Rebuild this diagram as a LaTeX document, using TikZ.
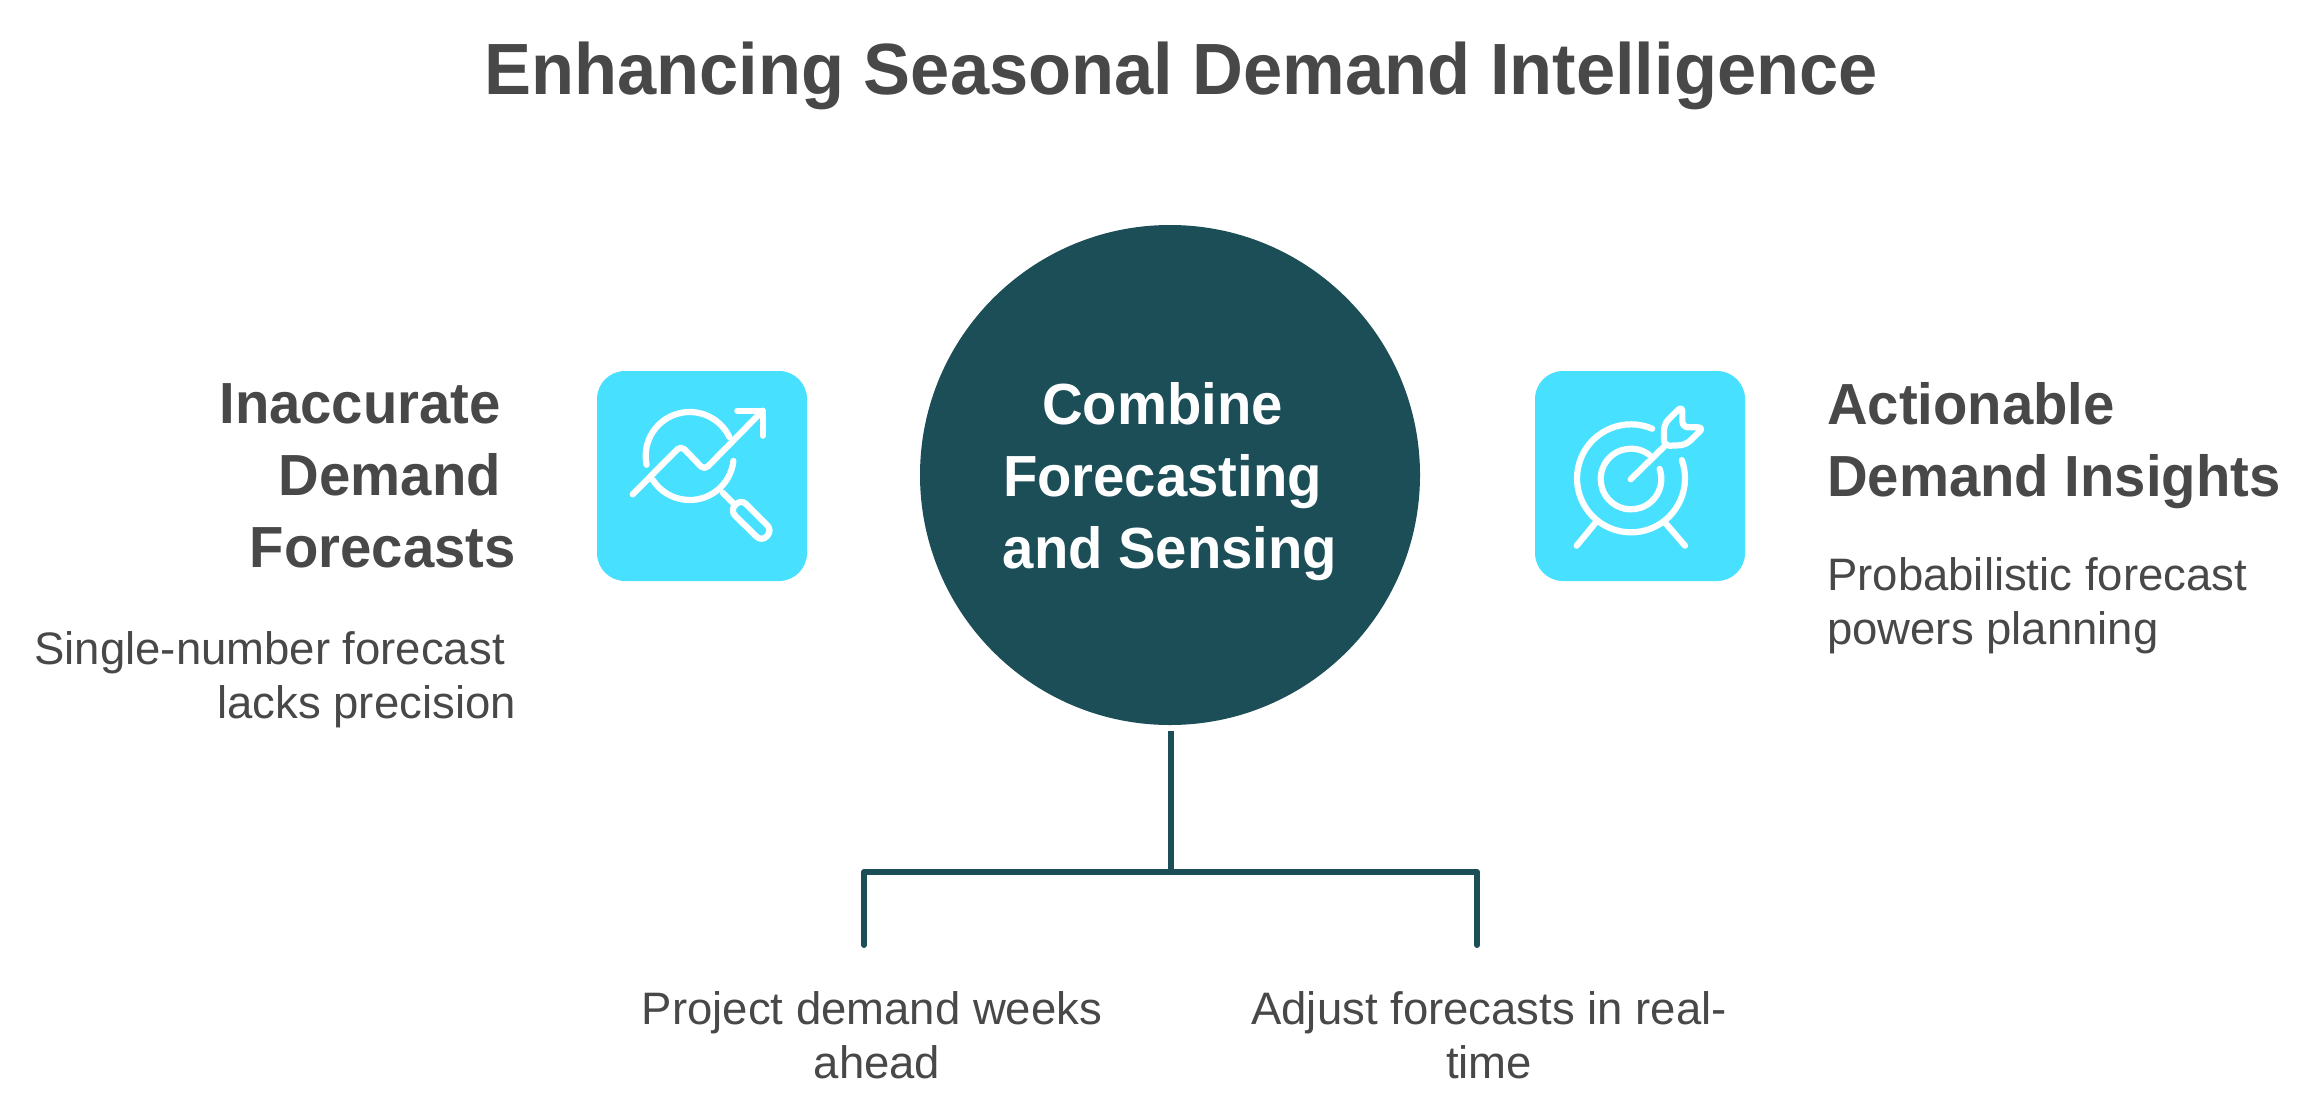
\documentclass[tikz,border=0pt]{standalone}
\usepackage{fontspec}
\setmainfont{Liberation Sans}
\usetikzlibrary{calc}
\definecolor{hubcol}{HTML}{1C4E58}
\definecolor{iconcol}{HTML}{48E0FF}
\definecolor{txt}{HTML}{484848}
\newfontfamily\headfont[FakeStretch=0.97]{Liberation Sans Bold}
\newfontfamily\bodyfont{Liberation Sans}
\tikzset{
  titletext/.style={text=txt,inner sep=0pt,font=\headfont\fontsize{72.6}{84}\selectfont},
  headtext/.style={text=txt,inner sep=0pt,font=\headfont\fontsize{58}{72}\selectfont},
  bodytext/.style={text=txt,inner sep=0pt,font=\bodyfont\fontsize{45.5}{54}\selectfont},
  hubtext/.style={text=white,inner sep=0pt,font=\headfont\fontsize{58}{72}\selectfont},
  hubdisc/.style={circle,fill=hubcol,minimum size=500pt,inner sep=0pt},
  iconbox/.style={rectangle,rounded corners=28pt,fill=iconcol,minimum size=210pt,inner sep=0pt},
  glyph/.style={draw=white,line width=6.2pt,line cap=round,line join=round},
  bracket/.style={draw=hubcol,line width=6pt,line cap=round,line join=round},
  px/.style={x=0.33333pt,y=-0.33333pt}
}
\begin{document}
\begin{tikzpicture}[x=1pt,y=-1pt]
\useasboundingbox (0,0) rectangle (2320,1119);
\fill[white] (0,0) rectangle (2320,1119);
\node[titletext] (title) at (1181,76) {Enhancing Seasonal Demand Intelligence};
\node[hubdisc] (hub) at (1170,475) {};
\node[hubtext,align=center] (hubt) at (1170,482) {Combine\kern15pt\\Forecasting\kern15pt\\and Sensing};
\node[iconbox] (boxl) at (702,476) {};
\node[iconbox] (boxr) at (1640,476) {};
\begin{scope}[shift={(580,350)},px]
 \draw[glyph] ([shift={(168.5:132)}]329,318) arc[start angle=168.5,end angle=334.6,radius=132];
 \draw[glyph] ([shift={(6.4:132)}]329,318) arc[start angle=6.4,end angle=147,radius=132];
 \draw[glyph,rounded corners=5pt] (158,433) -- (303,287) -- (373,360) -- (548,182);
 \draw[glyph] (472,182) -- (548,182) -- (548,257);
 \draw[glyph] (428,428) -- (465,465);
 \draw[glyph,rounded corners=7pt] (483,447) -- (450,482) -- (545,575) -- (577,541) -- cycle;
\end{scope}
\begin{scope}[shift={(1520,350)},px]
 \draw[glyph] ([shift={(293.2:162)}]333,385) arc[start angle=293.2,end angle=-19.7,radius=162];
 \draw[glyph] ([shift={(306.6:91)}]333,387) arc[start angle=306.6,end angle=-19.4,radius=91];
 \draw[glyph] (332,388) -- (432,290);
 \draw[glyph,rounded corners=6pt] (432,288) -- (432,222) -- (487,167) -- (487,232) -- (552,232) -- (497,285) -- cycle;
 \draw[glyph] (225,520) -- (170,587);
 \draw[glyph] (437,520) -- (495,587);
\end{scope}
\node[headtext,align=right,anchor=east] (lefthead) at (516,476) {Inaccurate\kern15pt\\Demand\kern15pt\\Forecasts};
\node[bodytext,align=right,anchor=east] (leftbody) at (516,680) {Single-number forecast\kern11pt\\lacks precision};
\node[headtext,align=left,anchor=west] (righthead) at (1827,446) {Actionable\\Demand Insights};
\node[bodytext,align=left,anchor=west] (rightbody) at (1827,606) {Probabilistic forecast\\powers planning};
\node[bodytext,align=center] (subl) at (877,1035) {Project demand weeks\kern10pt\\ahead};
\node[bodytext,align=center] (subr) at (1489,1035) {Adjust forecasts in real-\\time};
\coordinate (stemtop) at ($(hub.south)+(1,6)$);
\coordinate (junction) at (1171,872);
\coordinate (endl) at (864,945);
\coordinate (endr) at (1477,945);
\draw[bracket,line cap=butt] (stemtop) -- (junction);
\draw[bracket] (endl) |- (junction) -| (endr);
\end{tikzpicture}
\end{document}
